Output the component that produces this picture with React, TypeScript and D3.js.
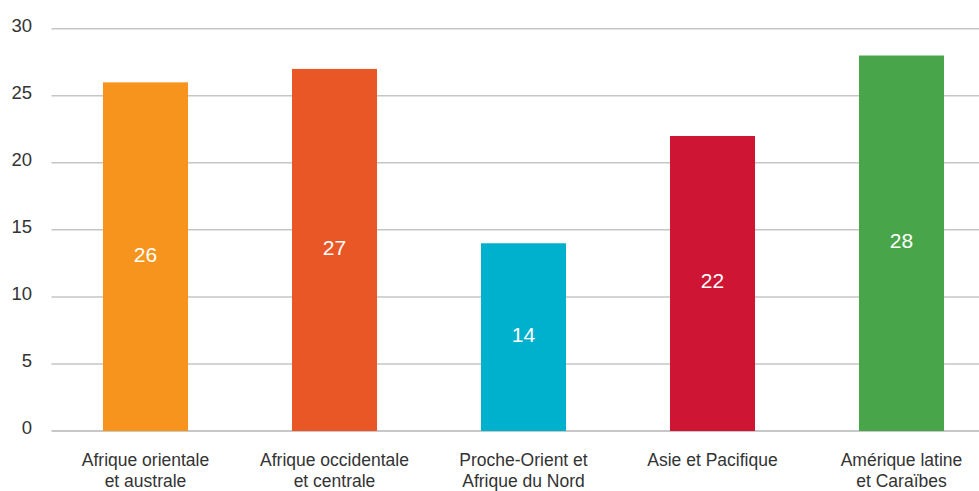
import React from "react";
import * as d3 from "d3";

const categories: string[][] = [
  ["Afrique orientale", "et australe"],
  ["Afrique occidentale", "et centrale"],
  ["Proche-Orient et", "Afrique du Nord"],
  ["Asie et Pacifique"],
  ["Amérique latine", "et Caraïbes"],
];
const values: number[] = [26, 27, 14, 22, 28];
const colors: string[] = ["#F7941E", "#E95726", "#00B1CE", "#CF1534", "#48A54A"];
const yTicks: number[] = [0, 5, 10, 15, 20, 25, 30];

const W = 979;
const H = 491;
const FONT = "'Liberation Sans', Arial, Helvetica, sans-serif";

export default function App() {
  const keys = categories.map((c) => c.join(" "));
  const x = d3
    .scaleBand<string>()
    .domain(keys)
    .range([51, 996])
    .paddingInner(0.55)
    .paddingOuter(0.275);
  const y = d3.scaleLinear().domain([0, 30]).range([431, 28.7]);

  return (
    <svg
      width={W}
      height={H}
      style={{ position: "absolute", left: 0, top: 0, display: "block" }}
      fontFamily={FONT}
    >
      <rect width={W} height={H} fill="#fff" />
      {yTicks.map((t) => (
        <g key={t}>
          <line
            x1={51.5}
            x2={979}
            y1={y(t)}
            y2={y(t)}
            stroke={t === 0 ? "#b4b4b4" : "#c6c6c6"}
            strokeWidth={1.5}
          />
          <text
            x={32}
            y={y(t) + 3}
            textAnchor="end"
            fontSize={18.5}
            fill="#333"
          >
            {t}
          </text>
        </g>
      ))}
      {values.map((v, i) => {
        const k = keys[i];
        const x0 = x(k)!;
        const bw = x.bandwidth();
        const top = y(v);
        const mid = (top + y(0)) / 2;
        return (
          <g key={k}>
            <rect x={x0} y={top} width={bw} height={y(0) - top} fill={colors[i]} />
            <text
              x={x0 + bw / 2}
              y={mid + 5}
              textAnchor="middle"
              fontSize={21}
              fill="#fff"
            >
              {v}
            </text>
          </g>
        );
      })}
      {categories.map((lines, i) => {
        const cx = x(keys[i])! + x.bandwidth() / 2;
        return (
          <text key={i} x={cx} textAnchor="middle" fontSize={17.5} fill="#333">
            {lines.map((l, j) => (
              <tspan key={j} x={cx} y={466 + j * 21}>
                {l}
              </tspan>
            ))}
          </text>
        );
      })}
    </svg>
  );
}
